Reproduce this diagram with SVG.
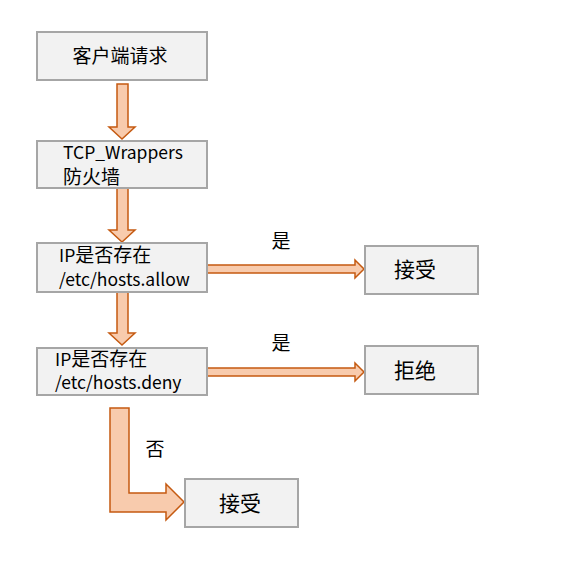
<svg xmlns="http://www.w3.org/2000/svg" width="568" height="585" viewBox="0 0 568 585">
<style>
.box{fill:#f2f2f2;stroke:#a6a6a6;stroke-width:2}
.arr{fill:#f8cbad;stroke:#c55a11;stroke-width:1.5;stroke-linejoin:miter}
text{font-family:"Noto Sans CJK SC","Noto Sans",sans-serif;font-size:17.5px;fill:#000}
.c{text-anchor:middle}
.z{font-size:19px}
.l{font-size:21px}
</style>
<rect width="568" height="585" fill="#fff"/>
<g id="connectors">
<path class="arr" d="M117,84 H128 V127 H135 L122,139 L109,127 H117 Z"/>
<path class="arr" d="M117,188 H128 V230 H135 L122,242 L109,230 H117 Z"/>
<path class="arr" d="M117,292 H128 V333 H135 L122,345 L109,333 H117 Z"/>
<path class="arr" d="M207,265 H355 V260 L364,269 L355,278 V273 H207 Z"/>
<path class="arr" d="M207,368 H355 V363 L364,372 L355,381 V376 H207 Z"/>
<path class="arr" d="M110,408 H129 V493 H166 V484 L184,502 L166,520 V512 H110 Z"/>
<text x="281" y="248" class="c z">是</text>
<text x="281" y="350" class="c z">是</text>
<text x="155" y="456" class="c z">否</text>
</g>
<g id="n1"><rect class="box" x="37" y="32" width="170" height="48"/><text x="120" y="63" class="c z">客户端请求</text></g>
<g id="n2"><rect class="box" x="37" y="141" width="170" height="47"/><text x="63" y="159">TCP_Wrappers</text><text x="63" y="184" class="z">防火墙</text></g>
<g id="n3"><rect class="box" x="37" y="243" width="170" height="49"/><text x="59" y="262">IP<tspan class="z">是否存在</tspan></text><text x="59" y="286">/etc/hosts.allow</text></g>
<g id="n4"><rect class="box" x="37" y="348" width="170" height="47"/><text x="55" y="366">IP<tspan class="z">是否存在</tspan></text><text x="55" y="389">/etc/hosts.deny</text></g>
<g id="n5"><rect class="box" x="365" y="246" width="113" height="48"/><text x="415" y="277" class="c l">接受</text></g>
<g id="n6"><rect class="box" x="365" y="346" width="113" height="48"/><text x="415" y="378" class="c l">拒绝</text></g>
<g id="n7"><rect class="box" x="185" y="479" width="113" height="48"/><text x="240" y="511" class="c l">接受</text></g>
</svg>
